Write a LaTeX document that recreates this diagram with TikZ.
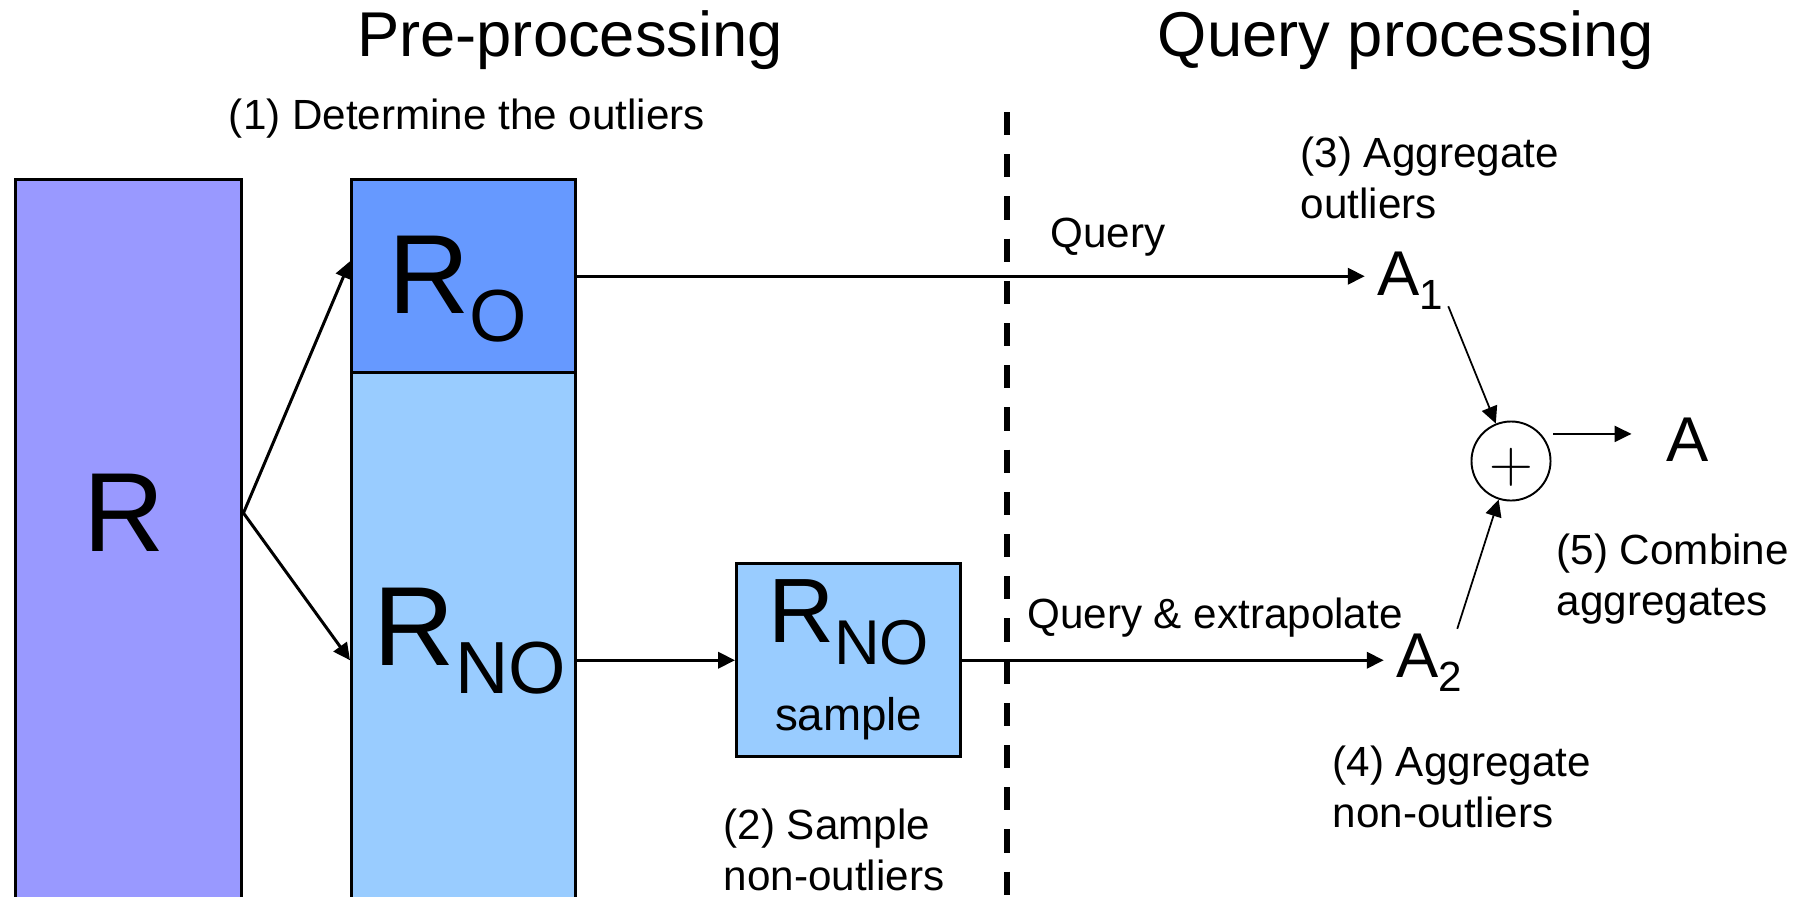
\documentclass[tikz,border=0pt]{standalone}
\usepackage{fontspec}
\setmainfont{Liberation Sans}
\usetikzlibrary{arrows.meta}

\definecolor{rcol}{HTML}{9999FF}
\definecolor{rocol}{HTML}{6699FF}
\definecolor{rnocol}{HTML}{99CCFF}

\newcommand{\Rbig}[1]{R\raisebox{-8pt}{\fontsize{21}{24}\selectfont #1}}
\newcommand{\Rsmall}[1]{R\raisebox{-6pt}{\fontsize{18}{20}\selectfont #1}}
\newcommand{\Asub}[1]{A\raisebox{-4pt}{\fontsize{12}{14}\selectfont #1}}

\tikzset{
  box/.style={draw, line width=0.95pt, anchor=north west, inner sep=0pt, minimum width=2.24cm},
  arr/.style={-{Triangle[length=4.8pt,width=4.6pt]}, line width=0.85pt},
  thinarr/.style={arr, line width=0.5pt},
  lbl/.style={font=\fontsize{12}{14.5}\selectfont, inner sep=0pt},
  note/.style={lbl, align=left, anchor=west},
  title/.style={font=\fontsize{18}{20}\selectfont},
  big/.style={font=\fontsize{32}{36}\selectfont},
  mid/.style={font=\fontsize{26}{30}\selectfont},
  agg/.style={font=\fontsize{18}{20}\selectfont},
}

\begin{document}
\begin{tikzpicture}[x=0.01cm, y=-0.01cm]
\clip (0,0) rectangle (1800,896);

% headings
\node[title] (pre) at (570,40) {Pre-processing};
\node[title] (qry) at (1406,40) {Query processing};

% relation R and its two parts
\node[box, fill=rcol, minimum width=2.26cm, minimum height=7.4cm] (Rbox) at (14,178) {};
\node[big] (Rlab) at (124,513) {R};
\node[box, fill=rocol, minimum height=1.93cm] (RObox) at (350,178) {};
\node[big] (ROlab) at (458,289) {\Rbig{O}};
\node[box, fill=rnocol, minimum height=5.4cm] (RNObox) at (350,371) {};
\node[big] (RNOlab) at (470,641) {\Rbig{NO}};

% sample of the non-outliers
\node[box, fill=rnocol, minimum height=1.93cm, align=center, mid] (smp) at (735,562)
  {\Rsmall{NO}\\[-5pt]{\fontsize{13}{15}\selectfont sample}};

% phase border
\draw[line width=1.7pt, dash pattern=on 6.6pt off 5.4pt] (1007,112) -- (1007,900);

% aggregates
\node[agg] (A1) at (1410,281) {\Asub{1}};
\node[agg] (A2) at (1429,663) {\Asub{2}};
\node[circle, draw, line width=0.55pt, minimum size=0.79cm, inner sep=0pt] (plus) at (1511,461) {};
\node[font=\fontsize{18}{20}\selectfont, inner sep=0pt] (plussign) at ([yshift=-0.06cm]plus.center) {$+$};
\node[agg] (A) at (1688,440) {A};

% connectors
\draw[arr] (Rbox.east |- Rlab) -- ([yshift=0.15cm]RObox.west);
\draw[arr] (Rbox.east |- Rlab) -- (RNObox.west |- smp.west);
\draw[arr] (RObox.east) -- (RObox.east -| A1.west);
\draw[arr] (RNObox.east |- smp.west) -- (smp.west);
\draw[arr] (smp.east) -- (smp.east -| A2.west);
\draw[thinarr] ([xshift=-0.07cm, yshift=0.16cm]A1.south east) -- (plus);
\draw[thinarr] ([xshift=-0.17cm, yshift=-0.07cm]A2.north east) -- (plus);
\draw[thinarr, shorten <=0.12cm, shorten >=0.23cm] (plus.42) -- (plus.42 -| A.west);

% labels
\node[lbl] (q1) at (1108,237) {Query};
\node[lbl] (q2) at (1215,618) {Query \& extrapolate};
\node[lbl] (n1) at (467,119) {(1) Determine the outliers};
\node[note] (n2) at (723,850) {(2) Sample\\non-outliers};
\node[note] (n3) at (1300,178) {(3) Aggregate\\outliers};
\node[note] (n4) at (1332,787) {(4) Aggregate\\non-outliers};
\node[note] (n5) at (1556,579) {(5) Combine\\aggregates};

\end{tikzpicture}
\end{document}
